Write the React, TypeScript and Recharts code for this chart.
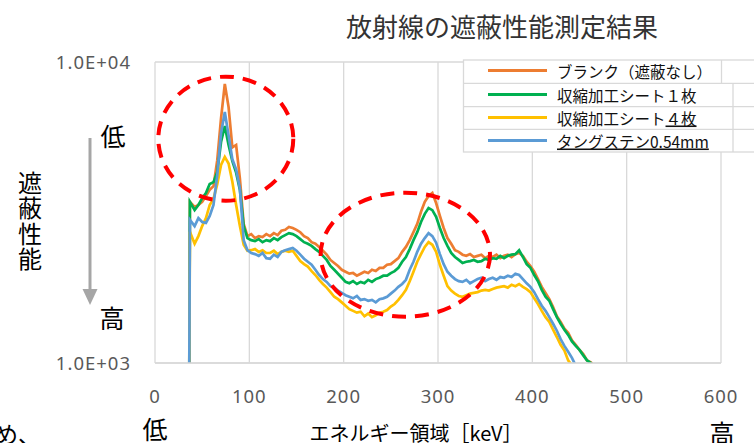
import { CartesianGrid, Line, LineChart, ReferenceArea, XAxis, YAxis } from "recharts";

// energy channels [keV]
const energy = [
  36, 37,
  42, 46, 50, 54, 58, 62, 66, 70, 74, 78,
  82, 86, 90, 94, 98, 102, 106, 110, 114, 118,
  122, 126, 130, 134, 138, 142, 146, 150, 154, 158,
  162, 166, 170, 174, 178, 182, 186, 190, 194, 198,
  202, 206, 210, 214, 218, 222, 226, 230, 234, 238,
  242, 246, 250, 254, 258, 262, 266, 270, 274, 278,
  282, 286, 290, 294, 298, 302, 306, 310, 314, 318,
  322, 326, 330, 334, 338, 342, 346, 350, 354, 358,
  362, 366, 370, 374, 378, 382, 386, 390, 394, 398,
  402, 406, 410, 414, 418, 422, 426, 430, 434, 438,
  442, 446, 450, 454, 458, 462, 466, 470
];

const blank = [
  500, 3430,
  3300, 3350, 3430, 3590, 3760, 3870, 4720, 6500, 8450, 7080,
  5200, 5300, 4100, 2900, 2640, 2680, 2600, 2640, 2620, 2680,
  2640, 2700, 2660, 2750, 2770, 2830, 2810, 2770, 2720, 2640,
  2600, 2520, 2490, 2430, 2360, 2290, 2200, 2150, 2100, 2040,
  2010, 1980, 1990, 1950, 1980, 2010, 1990, 2040, 2020, 2070,
  2070, 2120, 2130, 2180, 2230, 2340, 2430, 2560, 2720, 2900,
  3180, 3430, 3590, 3670, 3400, 3080, 2810, 2600, 2490, 2370,
  2340, 2290, 2270, 2300, 2250, 2270, 2290, 2230, 2270, 2250,
  2290, 2230, 2270, 2290, 2250, 2300, 2320, 2270, 2170, 2100,
  2010, 1900, 1790, 1710, 1630, 1535, 1430, 1370, 1300, 1260,
  1190, 1150, 1105, 1070, 1020, 1005, 975, null
];

const sheet1 = [
  500, 3430,
  3220, 3350, 3530, 3670, 3930, 3990, 4310, 5420, 6130, 5300,
  4680, 4290, 3760, 2850, 2600, 2560, 2540, 2580, 2520, 2560,
  2540, 2600, 2560, 2620, 2660, 2700, 2680, 2640, 2580, 2520,
  2490, 2450, 2390, 2340, 2270, 2200, 2100, 2040, 1980, 1920,
  1860, 1840, 1870, 1830, 1860, 1840, 1890, 1860, 1900, 1920,
  1950, 1950, 1990, 2020, 2070, 2170, 2250, 2390, 2560, 2720,
  2940, 3130, 3270, 3220, 3060, 2810, 2600, 2450, 2320, 2250,
  2200, 2150, 2170, 2180, 2200, 2170, 2180, 2220, 2200, 2230,
  2220, 2270, 2230, 2270, 2290, 2300, 2370, 2250, 2130, 2070,
  1960, 1870, 1750, 1660, 1610, 1510, 1420, 1350, 1290, 1240,
  1180, 1140, 1105, 1060, 1020, 1000, 970, null
];

const sheet4 = [
  500, 2730,
  2490, 2640, 2850, 3030, 3350, 3510, 3930, 4550, 4840, 4600,
  4000, 3350, 2850, 2470, 2360, 2370, 2390, 2340, 2370, 2320,
  2320, 2360, 2300, 2340, 2360, 2340, 2360, 2270, 2180, 2130,
  2090, 2020, 1960, 1890, 1830, 1780, 1720, 1660, 1630, 1590,
  1550, 1510, 1490, 1470, 1480, 1430, 1460, 1420, 1440, 1470,
  1480, 1500, 1540, 1570, 1620, 1680, 1750, 1870, 2010, 2170,
  2300, 2430, 2520, 2470, 2340, 2120, 1950, 1800, 1740, 1700,
  1670, 1660, 1680, 1700, 1710, 1720, 1740, 1750, 1740, 1760,
  1780, 1790, 1800, 1780, 1820, 1800, 1830, 1790, 1760, 1720,
  1640, 1570, 1490, 1420, 1370, 1290, 1220, 1150, 1100, 1020,
  980, null, null, null, null, null, null, null
];

const tungsten = [
  500, 2990,
  2850, 3030, 2940, 2920, 3080, 3350, 4210, 5800, 6820, 5700,
  4750, 4400, 3800, 2560, 2370, 2320, 2300, 2270, 2320, 2230,
  2220, 2290, 2250, 2340, 2370, 2390, 2410, 2360, 2290, 2220,
  2170, 2120, 2040, 1960, 1900, 1860, 1800, 1780, 1740, 1710,
  1680, 1660, 1640, 1670, 1620, 1630, 1610, 1620, 1590, 1630,
  1640, 1660, 1700, 1740, 1790, 1830, 1890, 2040, 2170, 2340,
  2490, 2600, 2700, 2640, 2510, 2300, 2130, 2010, 1950, 1900,
  1870, 1860, 1890, 1840, 1870, 1900, 1920, 1870, 1900, 1920,
  1890, 1930, 1920, 1950, 1930, 1980, 1960, 1900, 1840, 1790,
  1720, 1630, 1550, 1490, 1420, 1350, 1280, 1200, 1140, 1090,
  1040, 980, null, null, null, null, null, null
];

const seriesKeys = ["blank", "sheet1", "sheet4", "tungsten"];
const seriesColors = ["#ED7D31", "#00B050", "#FFC000", "#5B9BD5"];
const xTicks = [0, 100, 200, 300, 400, 500, 600];
const yTicks = [1000, 10000];

const rows = energy.map((e, i) => ({
  energy: e,
  blank: blank[i],
  sheet1: sheet1[i],
  sheet4: sheet4[i],
  tungsten: tungsten[i]
}));

const jp = '"Noto Sans CJK JP", sans-serif';

const ring = (props: any) => (
  <ellipse
    cx={props.x + props.width / 2}
    cy={props.y + props.height / 2}
    rx={Math.abs(props.width) / 2}
    ry={Math.abs(props.height) / 2}
    fill="none"
    stroke="#FF0000"
    strokeWidth={4}
    strokeDasharray="14 9"
  />
);

const legendRows = [70.5, 94.5, 117.5, 140.5];

function Overlay() {
  return (
    <svg width={754} height={443} style={{ position: "absolute", left: 0, top: 0, pointerEvents: "none" }}>
      <g fontFamily={jp} dominantBaseline="central" textAnchor="middle">
        <text x={502} y={25} fontSize={26} fill="#333">放射線の遮蔽性能測定結果</text>
        <text x={113} y={135} fontSize={25} fill="#000">低</text>
        <text x={112} y={317} fontSize={25} fill="#000">高</text>
        <text x={30} y={181} fontSize={24} fill="#000">遮</text>
        <text x={30} y={206.5} fontSize={24} fill="#000">蔽</text>
        <text x={30} y={232} fontSize={24} fill="#000">性</text>
        <text x={30} y={257.5} fontSize={24} fill="#000">能</text>
        <text x={155} y={428} fontSize={25} fill="#000">低</text>
        <text x={722} y={432} fontSize={25} fill="#000">高</text>
        <text x={416} y={432} fontSize={20} fill="#000">エネルギー領域［keV］</text>
        <text x={-5} y={433} fontSize={23} fill="#000" textAnchor="start">め、</text>
      </g>
      <line x1={90} y1={138} x2={90} y2={292} stroke="#A6A6A6" strokeWidth={3} />
      <polygon points="82.5,289 97.5,289 90,305" fill="#A6A6A6" />

      <g>
        <rect x={463.5} y={60} width={300} height={92} fill="#fff" stroke="#D9D9D9" strokeWidth={1.3} />
        <line x1={463.5} y1={83.3} x2={754} y2={83.3} stroke="#D9D9D9" strokeWidth={1.3} />
        <line x1={463.5} y1={106.7} x2={754} y2={106.7} stroke="#D9D9D9" strokeWidth={1.3} />
        <line x1={463.5} y1={129.3} x2={754} y2={129.3} stroke="#D9D9D9" strokeWidth={1.3} />
        <line x1={721.5} y1={60} x2={721.5} y2={83.3} stroke="#D9D9D9" strokeWidth={1.3} />
        <line x1={733} y1={83.3} x2={733} y2={152} stroke="#D9D9D9" strokeWidth={1.3} />
        {legendRows.map((y, i) => (
          <line key={i} x1={488} y1={y} x2={547} y2={y} stroke={seriesColors[i]} strokeWidth={3} />
        ))}
        <g fontFamily={jp} fontSize={15.5} fill="#111" dominantBaseline="central">
          <text x={557} y={legendRows[0]}>ブランク（遮蔽なし）</text>
          <text x={557} y={legendRows[1]}>収縮加工シート１枚</text>
          <text x={557} y={legendRows[2]}>
            収縮加工シート<tspan style={{ textDecoration: "underline" }}>４枚</tspan>
          </text>
          <text x={557} y={legendRows[3]} style={{ textDecoration: "underline" }}>タングステン0.54mm</text>
        </g>
      </g>
    </svg>
  );
}

export default function App() {
  return (
    <div style={{ position: "absolute", left: 0, top: 0, width: 754, height: 443, overflow: "hidden", background: "#fff" }}>
      <LineChart width={754} height={443} data={rows} margin={{ top: 62, right: 33, bottom: 50, left: 0 }}>
        <CartesianGrid stroke="#D9D9D9" strokeWidth={1.3} />
        <XAxis
          type="number"
          dataKey="energy"
          domain={[0, 600]}
          ticks={xTicks}
          height={30}
          tickLine={false}
          tickSize={0}
          tickMargin={27}
          axisLine={{ stroke: "#D9D9D9", strokeWidth: 1.3 }}
          tick={{ fontSize: 18.5, fill: "#595959", fontFamily: "Noto Sans", letterSpacing: 1 }}
        />
        <YAxis
          scale="log"
          domain={[1000, 10000]}
          ticks={yTicks}
          allowDataOverflow
          width={155}
          tickLine={false}
          axisLine={false}
          tickSize={0}
          tickMargin={24}
          tickFormatter={(v) => (v >= 10000 ? "1.0E+04" : "1.0E+03")}
          tick={{ fontSize: 18.5, fill: "#595959", fontFamily: "Noto Sans", letterSpacing: 1 }}
        />
        {seriesKeys.map((k, i) => (
          <Line
            key={k}
            type="linear"
            dataKey={k}
            stroke={seriesColors[i]}
            strokeWidth={2.7}
            dot={false}
            activeDot={false}
            isAnimationActive={false}
          />
        ))}
        <ReferenceArea x1={3.5} x2={146.6} y1={3460} y2={8940} shape={ring} zIndex={1000} />
        <ReferenceArea x1={175.6} x2={355.1} y1={1425} y2={3680} shape={ring} zIndex={1000} />
      </LineChart>
      <Overlay />
    </div>
  );
}
